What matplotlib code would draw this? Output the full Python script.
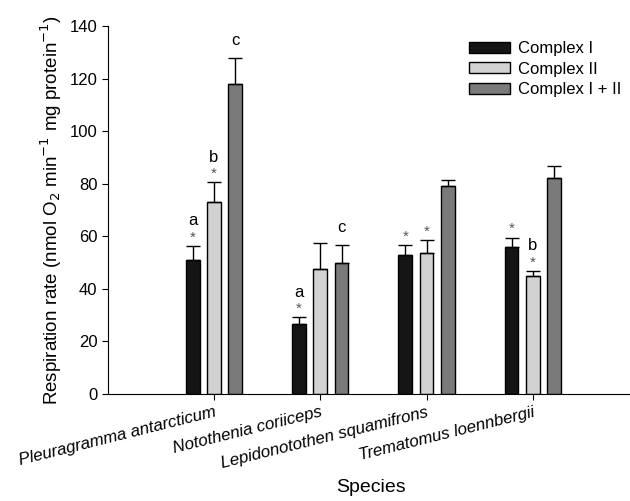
import matplotlib
matplotlib.use("Agg")
import matplotlib.pyplot as plt
import numpy as np

plt.rcParams['font.family'] = ['Liberation Sans', 'DejaVu Sans']

species = ["Pleuragramma antarcticum", "Notothenia coriiceps",
           "Lepidonotothen squamifrons", "Trematomus loennbergii"]
series = ["Complex I", "Complex II", "Complex I + II"]
complex1 = [51.0, 26.5, 52.9, 55.9]
complex2 = [72.9, 47.4, 53.6, 45.0]
complex12 = [118.0, 49.9, 79.0, 82.0]
err1 = [5.4, 2.7, 3.9, 3.6]
err2 = [7.6, 10.2, 5.0, 1.9]
err12 = [9.9, 6.8, 2.3, 4.8]
stars1 = [True, True, True, True]
stars2 = [True, False, True, True]
stars12 = [False, False, False, False]
letters1 = ["a", "a", "", ""]
letters2 = ["b", "", "", "b"]
letters12 = ["c", "c", "", ""]

colors = ["#151515", "#d2d2d2", "#7a7a7a"]

fig = plt.figure(figsize=(6.3, 5.01), dpi=100)
ax = fig.add_axes([0.171, 0.2136, 0.835, 0.7344])

x = np.arange(1, len(species) + 1)
spacing = 0.2
width = 0.128
vals = [complex1, complex2, complex12]
errs = [err1, err2, err12]
stars = [stars1, stars2, stars12]
letters = [letters1, letters2, letters12]

for i in range(3):
    xi = x + (i - 1) * spacing
    ax.bar(xi, vals[i], width, color=colors[i], edgecolor="black",
           linewidth=1.0, label=series[i], zorder=2)
    ax.errorbar(xi, vals[i], yerr=[np.zeros(len(x)), errs[i]], fmt="none",
                ecolor="black", elinewidth=1.0, capsize=5, capthick=1.0, zorder=3)
    for j in range(len(x)):
        top = vals[i][j] + errs[i][j]
        if stars[i][j]:
            ax.annotate("*", (xi[j], top), xytext=(0, 1.0), textcoords="offset points",
                        ha="center", va="bottom", fontsize=11, color="#555555")
        if letters[i][j]:
            off = 12.5 if stars[i][j] else 7
            ax.annotate(letters[i][j], (xi[j], top), xytext=(0, off),
                        textcoords="offset points", ha="center", va="bottom",
                        fontsize=12, color="black")

ax.set_xlim(0, 4.95)
ax.set_ylim(0, 140)
ax.set_yticks(np.arange(0, 141, 20))
ax.set_xticks(x)
ax.set_xticklabels(species, rotation=14, ha="right", rotation_mode="anchor",
                   fontstyle="italic", fontsize=12.2)
ax.tick_params(axis="y", labelsize=12, length=4, width=0.8)
ax.tick_params(axis="x", length=4, width=0.8)
ax.spines["top"].set_visible(False)
ax.spines["right"].set_visible(False)
ax.set_ylabel("Respiration rate (nmol O$_2$ min$^{-1}$ mg protein$^{-1}$)", fontsize=13.5)
ax.set_xlabel("Species", fontsize=14, labelpad=6)

leg = ax.legend(loc="upper right", bbox_to_anchor=(1.004, 1.0), frameon=False,
                fontsize=12, handlelength=2.45, handleheight=0.62,
                labelspacing=0.33, handletextpad=0.48)

fig.savefig("out.png", dpi=100)
